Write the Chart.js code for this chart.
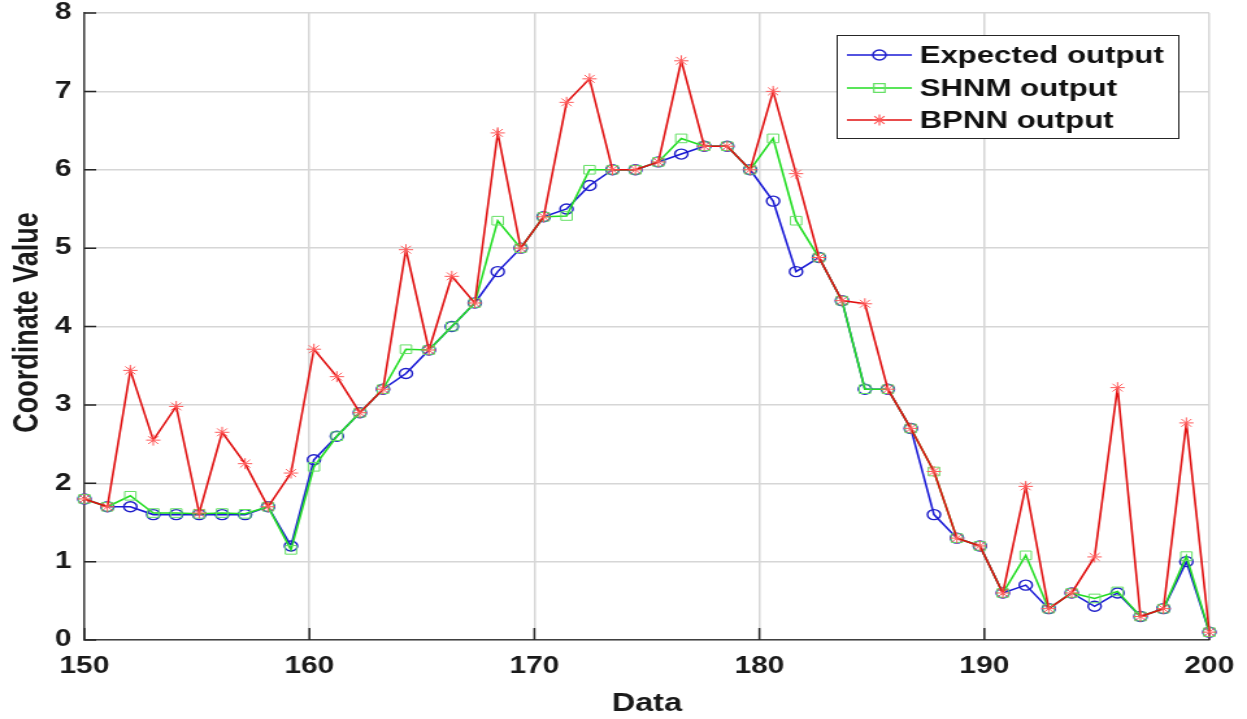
<!DOCTYPE html>
<html><head><meta charset="utf-8">
<script src="https://cdn.jsdelivr.net/npm/chart.js@4"></script>
<style>html,body{margin:0;padding:0;background:#fff;overflow:hidden}
canvas{display:block}</style>
</head><body>
<canvas id="c" width="960" height="719" style="width:1247px;height:719px"></canvas>
<script>
const dataX = [150.00,151.02,152.04,153.06,154.08,155.10,156.12,157.14,158.16,159.18,
  160.20,161.22,162.24,163.27,164.29,165.31,166.33,167.35,168.37,169.39,
  170.41,171.43,172.45,173.47,174.49,175.51,176.53,177.55,178.57,179.59,
  180.61,181.63,182.65,183.67,184.69,185.71,186.73,187.76,188.78,189.80,
  190.82,191.84,192.86,193.88,194.90,195.92,196.94,197.96,198.98,200.00];
const expectedOutput = [1.8,1.7,1.7,1.6,1.6,1.6,1.6,1.6,1.7,1.2,
  2.3,2.6,2.9,3.2,3.4,3.7,4.0,4.3,4.7,5.0,
  5.4,5.5,5.8,6.0,6.0,6.1,6.2,6.3,6.3,6.0,
  5.6,4.7,4.88,4.33,3.2,3.2,2.7,1.6,1.3,1.2,
  0.6,0.7,0.4,0.6,0.43,0.6,0.3,0.4,1.0,0.1];
const shnmOutput = [1.8,1.7,1.84,1.62,1.62,1.61,1.62,1.61,1.7,1.15,
  2.21,2.6,2.9,3.2,3.71,3.7,4.0,4.3,5.35,5.0,
  5.4,5.41,6.0,6.0,6.0,6.1,6.4,6.3,6.3,6.0,
  6.4,5.35,4.88,4.33,3.2,3.2,2.7,2.15,1.3,1.2,
  0.6,1.08,0.4,0.6,0.53,0.62,0.3,0.4,1.07,0.1];
const bpnnOutput = [1.8,1.7,3.44,2.55,2.98,1.62,2.65,2.25,1.7,2.13,
  3.71,3.36,2.9,3.2,4.98,3.7,4.64,4.3,6.47,5.0,
  5.4,6.86,7.16,6.0,6.0,6.1,7.39,6.3,6.3,6.0,
  7.0,5.95,4.88,4.33,4.29,3.2,2.7,2.15,1.3,1.2,
  0.6,1.96,0.4,0.6,1.06,3.22,0.3,0.4,2.77,0.1];
const xTicks = [150,160,170,180,190,200];
const yTicks = [0,1,2,3,4,5,6,7,8];
const seriesNames = ['Expected output','SHNM output','BPNN output'];
const xTitle = 'Data';
const yTitle = 'Coordinate Value';

const FONT = '"Liberation Sans", Arial, Helvetica, sans-serif';
const lineCols = ['#1a1ad6','#22dd22','#e01010'];
const markCols = ['#1e1ec8','#66e066','#ff5a5a'];
const styles = ['circle','rect','star'];

function drawMark(ctx, style, x, y, col){
  ctx.save();
  ctx.strokeStyle = col; ctx.lineWidth = style === 'circle' ? 1.4 : 1.2;
  ctx.beginPath();
  if (style === 'circle') { ctx.arc(x, y, 5, 0, Math.PI*2); }
  else if (style === 'rect') { ctx.rect(x-4.3, y-4.3, 8.6, 8.6); }
  else {
    const r = 5.5;
    for (let k=0;k<4;k++){ const a = k*Math.PI/4; ctx.moveTo(x-Math.cos(a)*r, y-Math.sin(a)*r); ctx.lineTo(x+Math.cos(a)*r, y+Math.sin(a)*r); }
  }
  ctx.stroke();
  ctx.restore();
}

const decor = {
  id: 'decor',
  beforeDatasetsDraw(chart){
    const {ctx, chartArea:a, scales:{x, y}} = chart;
    ctx.save();
    ctx.strokeStyle = '#262626'; ctx.lineWidth = 1.5;
    ctx.beginPath();
    for (const v of xTicks){ const px = x.getPixelForValue(v); ctx.moveTo(px, a.bottom); ctx.lineTo(px, a.bottom-12); }
    for (const v of yTicks){ const py = y.getPixelForValue(v); ctx.moveTo(a.left, py); ctx.lineTo(a.left+9, py); }
    ctx.stroke();
    ctx.restore();
  },
  afterDraw(chart){
    const {ctx, chartArea:a} = chart;
    ctx.save();
    ctx.fillStyle = '#1a1a1a';
    ctx.font = 'bold 25px ' + FONT;
    ctx.textAlign = 'center'; ctx.textBaseline = 'alphabetic';
    ctx.fillText(xTitle, (a.left+a.right)/2, 711);
    ctx.save();
    ctx.translate(29.2, (a.top+a.bottom)/2 - 4);
    ctx.rotate(-Math.PI/2);
    ctx.font = 'bold 27px ' + FONT;
    ctx.fillText(yTitle, 0, 0);
    ctx.restore();
    // legend
    const x0 = 644, y0 = 35, x1 = 907, y1 = 138;
    ctx.fillStyle = '#fff';
    ctx.fillRect(x0, y0, x1-x0, y1-y0);
    ctx.strokeStyle = '#262626'; ctx.lineWidth = 1;
    ctx.strokeRect(x0+0.5, y0+0.5, x1-x0, y1-y0);
    const rows = [55, 88, 120];
    ctx.font = 'bold 24px ' + FONT;
    ctx.textAlign = 'left'; ctx.textBaseline = 'middle';
    seriesNames.forEach((nm, i) => {
      const yy = rows[i];
      ctx.strokeStyle = lineCols[i]; ctx.lineWidth = 1.6;
      ctx.beginPath(); ctx.moveTo(652, yy); ctx.lineTo(702, yy); ctx.stroke();
      drawMark(ctx, styles[i], 677, yy, markCols[i]);
      ctx.fillStyle = '#111';
      ctx.fillText(nm, 708, yy+1);
    });
    ctx.restore();
  }
};

function mk(vals){ return dataX.map((x,i)=>({x:x, y:vals[i]})); }

new Chart(document.getElementById('c'), {
  type: 'line',
  data: {
    datasets: [
      {label: seriesNames[0], data: mk(expectedOutput), borderColor: lineCols[0], borderWidth: 1.6,
       pointStyle: 'circle', pointRadius: 5, pointBorderColor: markCols[0], pointBackgroundColor: 'rgba(0,0,0,0)',
       pointBorderWidth: 1.4, tension: 0, order: 3, clip: false},
      {label: seriesNames[1], data: mk(shnmOutput), borderColor: lineCols[1], borderWidth: 1.6,
       pointStyle: 'rect', pointRadius: 6.1, pointBorderColor: markCols[1], pointBackgroundColor: 'rgba(0,0,0,0)',
       pointBorderWidth: 1, tension: 0, order: 2, clip: false},
      {label: seriesNames[2], data: mk(bpnnOutput), borderColor: lineCols[2], borderWidth: 1.6,
       pointStyle: 'star', pointRadius: 5.5, pointBorderColor: markCols[2], pointBackgroundColor: 'rgba(0,0,0,0)',
       pointBorderWidth: 1, tension: 0, order: 1, clip: false}
    ]
  },
  options: {
    responsive: false, animation: false, devicePixelRatio: 1,
    layout: {padding: {left: 0, right: 29, top: 13, bottom: 0}},
    plugins: {legend: {display: false}, tooltip: {enabled: false}},
    scales: {
      x: {type: 'linear', min: 150, max: 200,
        afterBuildTicks(s){ s.ticks = xTicks.map(v => ({value: v})); },
        afterFit(s){ s.height = 79; s.paddingLeft = 0; s.paddingRight = 0; },
        grid: {color: '#d6d6d6', lineWidth: 1.5, drawTicks: false},
        border: {color: '#404040', width: 1.5},
        ticks: {padding: 13, color: '#1a1a1a', maxRotation: 0, autoSkip: false,
          font: {family: FONT, size: 23, weight: 'bold'}}
      },
      y: {type: 'linear', min: 0, max: 8,
        afterBuildTicks(s){ s.ticks = yTicks.map(v => ({value: v})); },
        afterFit(s){ s.width = 65; s.paddingTop = 0; s.paddingBottom = 0; },
        grid: {color: '#d6d6d6', lineWidth: 1.5, drawTicks: false},
        border: {color: '#404040', width: 1.5},
        ticks: {padding: 10, color: '#1a1a1a', autoSkip: false,
          font: {family: FONT, size: 23, weight: 'bold'}}
      }
    }
  },
  plugins: [decor]
});
</script>
</body></html>
